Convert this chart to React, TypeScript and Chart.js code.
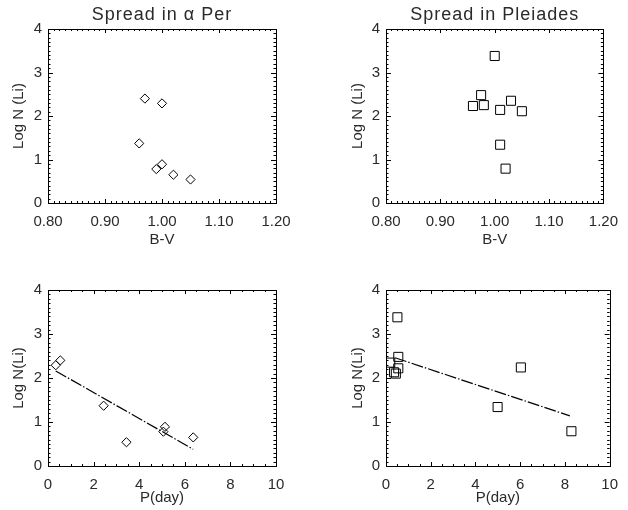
import React, { useEffect, useRef } from "react";
import { Chart, registerables } from "chart.js";
Chart.register(...registerables);

// ---- data ----
const alphaBV = [0.97, 1.0, 0.96, 0.99, 1.0, 1.02, 1.05];
const alphaLiBV = [2.4, 2.29, 1.37, 0.78, 0.89, 0.65, 0.54];
const pleiadesBV = [1.0, 0.975, 0.96, 0.98, 1.01, 1.03, 1.05, 1.01, 1.02];
const pleiadesLiBV = [3.38, 2.48, 2.23, 2.25, 2.14, 2.35, 2.11, 1.34, 0.79];
const alphaP = [0.34, 0.54, 2.44, 3.44, 5.06, 5.13, 6.37];
const alphaLiP = [2.29, 2.4, 1.37, 0.54, 0.78, 0.89, 0.65];
const alphaFitP = [0.34, 6.37];
const alphaFitLi = [2.16, 0.38];
const pleiadesP = [0.51, 0.55, 0.19, 0.55, 6.03, 0.36, 0.44, 4.99, 8.29];
const pleiadesLiP = [3.38, 2.48, 2.35, 2.22, 2.24, 2.13, 2.1, 1.34, 0.79];
const pleiadesFitP = [0.4, 8.22];
const pleiadesFitLi = [2.46, 1.14];
const bvRange = [0.8, 1.2];
const pRange = [0, 10];
const liRange = [0, 4];

const FONT = "'Liberation Sans', Arial, sans-serif";
const INK = "#2a2a2a";

const pts = (xs: number[], ys: number[]) => xs.map((x, i) => ({ x, y: ys[i] }));

const framePlugin = {
  id: "frame",
  afterDraw(chart: any, _args: any, opts: any) {
    const { ctx, chartArea: a, scales } = chart;
    const xs = scales.x, ys = scales.y;
    ctx.save();
    ctx.strokeStyle = "#000";
    ctx.lineWidth = 1;
    ctx.strokeRect(Math.round(a.left) + 0.5, Math.round(a.top) + 0.5, Math.round(a.right - a.left), Math.round(a.bottom - a.top));
    ctx.beginPath();
    {
      const n = Math.round((xs.max - xs.min) / opts.xMinor);
      for (let i = 1; i < n; i++) {
        const v = xs.min + i * opts.xMinor;
        const px = Math.round(xs.getPixelForValue(v)) + 0.5;
        const len = i % opts.xRatio === 0 ? 4 : 2;
        ctx.moveTo(px, a.bottom);
        ctx.lineTo(px, a.bottom - len);
        ctx.moveTo(px, a.top);
        ctx.lineTo(px, a.top + len);
      }
    }
    {
      const n = Math.round((ys.max - ys.min) / opts.yMinor);
      for (let i = 1; i < n; i++) {
        const v = ys.min + i * opts.yMinor;
        const py = Math.round(ys.getPixelForValue(v)) + 0.5;
        const len = i % opts.yRatio === 0 ? 5 : 2.5;
        ctx.moveTo(a.left, py);
        ctx.lineTo(a.left + len, py);
        ctx.moveTo(a.right, py);
        ctx.lineTo(a.right - len, py);
      }
    }
    ctx.stroke();
    if (opts.title) {
      ctx.fillStyle = INK;
      ctx.font = `18px ${FONT}`;
      (ctx as any).letterSpacing = "1px";
      ctx.textAlign = "center";
      ctx.textBaseline = "middle";
      ctx.fillText(opts.title, (a.left + a.right) / 2, opts.titleY);
      (ctx as any).letterSpacing = "0px";
    }
    ctx.restore();
  },
};

type Panel = {
  title?: string;
  scatterX: number[];
  scatterY: number[];
  fitX?: number[];
  fitY?: number[];
  marker: "rectRot" | "rect";
  xRange: number[];
  xStep: number;
  xMinor: number;
  xDecimals: number;
  xTitle: string;
  yTitle: string;
  yWidth: number;
  yTitlePad: number;
  right: number;
  top: number;
  xHeight: number;
  xTitlePad: number;
};

function makeConfig(p: Panel): any {
  const datasets: any[] = [
    {
      type: "scatter",
      data: pts(p.scatterX, p.scatterY),
      pointStyle: p.marker,
      pointRadius: p.marker === "rect" ? 6.4 : 4.6,
      pointBorderColor: "#000",
      pointBackgroundColor: "rgba(0,0,0,0)",
      pointBorderWidth: 1,
      showLine: false,
    },
  ];
  if (p.fitX && p.fitY) {
    datasets.push({
      type: "line",
      data: pts(p.fitX, p.fitY),
      borderColor: "#000",
      borderWidth: 1.2,
      borderDash: [12, 2, 1.5, 2],
      pointRadius: 0,
      fill: false,
    });
  }
  return {
    type: "scatter",
    data: { datasets },
    options: {
      responsive: false,
      animation: false,
      events: [],
      layout: { padding: { left: 0, right: p.right, top: p.top, bottom: 0 } },
      plugins: {
        legend: { display: false },
        tooltip: { enabled: false },
        frame: {
          title: p.title,
          titleY: 15,
          xMinor: p.xMinor,
          xRatio: Math.round(p.xStep / p.xMinor),
          yMinor: 0.1,
          yRatio: 10,
        },
      },
      scales: {
        x: {
          type: "linear",
          min: p.xRange[0],
          max: p.xRange[1],
          grid: { display: false, drawTicks: false },
          border: { display: false },
          afterFit: (s: any) => {
            s.height = p.xHeight;
          },
          ticks: {
            stepSize: p.xStep,
            padding: 10,
            color: INK,
            font: { family: FONT, size: 15 },
            maxRotation: 0,
            autoSkip: false,
            callback: (v: any) => Number(v).toFixed(p.xDecimals),
          },
          title: {
            display: true,
            text: p.xTitle,
            color: INK,
            font: { family: FONT, size: 15 },
            padding: { top: 0, bottom: p.xTitlePad },
          },
        },
        y: {
          type: "linear",
          min: liRange[0],
          max: liRange[1],
          grid: { display: false, drawTicks: false },
          border: { display: false },
          afterFit: (s: any) => {
            s.width = p.yWidth;
          },
          ticks: {
            stepSize: 1,
            padding: 6,
            color: INK,
            font: { family: FONT, size: 15 },
            callback: (v: any) => String(v),
          },
          title: {
            display: true,
            text: p.yTitle,
            color: INK,
            font: { family: FONT, size: 15 },
            padding: { top: p.yTitlePad, bottom: 0 },
          },
        },
      },
    },
    plugins: [framePlugin],
  };
}

const panels: Panel[] = [
  {
    title: "Spread in α Per",
    scatterX: alphaBV,
    scatterY: alphaLiBV,
    marker: "rectRot",
    xRange: bvRange,
    xStep: 0.1,
    xMinor: 0.01,
    xDecimals: 2,
    xTitle: "B-V",
    yTitle: "Log N (Li)",
    yWidth: 48,
    yTitlePad: 10,
    right: 38,
    top: 29,
    xHeight: 52,
    xTitlePad: 6.5,
  },
  {
    title: "Spread in Pleiades",
    scatterX: pleiadesBV,
    scatterY: pleiadesLiBV,
    marker: "rect",
    xRange: bvRange,
    xStep: 0.1,
    xMinor: 0.01,
    xDecimals: 2,
    xTitle: "B-V",
    yTitle: "Log N (Li)",
    yWidth: 72,
    yTitlePad: 35,
    right: 14,
    top: 29,
    xHeight: 52,
    xTitlePad: 6.5,
  },
  {
    scatterX: alphaP,
    scatterY: alphaLiP,
    fitX: alphaFitP,
    fitY: alphaFitLi,
    marker: "rectRot",
    xRange: pRange,
    xStep: 2,
    xMinor: 0.5,
    xDecimals: 0,
    xTitle: "P(day)",
    yTitle: "Log N(Li)",
    yWidth: 48,
    yTitlePad: 10,
    right: 38,
    top: 35,
    xHeight: 44,
    xTitlePad: 3,
  },
  {
    scatterX: pleiadesP,
    scatterY: pleiadesLiP,
    fitX: pleiadesFitP,
    fitY: pleiadesFitLi,
    marker: "rect",
    xRange: pRange,
    xStep: 2,
    xMinor: 0.5,
    xDecimals: 0,
    xTitle: "P(day)",
    yTitle: "Log N(Li)",
    yWidth: 72,
    yTitlePad: 35,
    right: 14,
    top: 35,
    xHeight: 44,
    xTitlePad: 3,
  },
];

function PanelChart({ panel }: { panel: Panel }) {
  const ref = useRef<HTMLCanvasElement | null>(null);
  useEffect(() => {
    if (!ref.current) return;
    const chart = new Chart(ref.current, makeConfig(panel));
    return () => chart.destroy();
  }, [panel]);
  return <canvas ref={ref} width={314} height={255} style={{ display: "block", width: 314, height: 255 }} />;
}

export default function App() {
  return (
    <div
      style={{
        position: "absolute",
        left: 0,
        top: 0,
        width: 628,
        height: 510,
        background: "#fff",
        display: "grid",
        gridTemplateColumns: "314px 314px",
        gridTemplateRows: "255px 255px",
      }}
    >
      {panels.map((p, i) => (
        <PanelChart key={i} panel={p} />
      ))}
    </div>
  );
}
